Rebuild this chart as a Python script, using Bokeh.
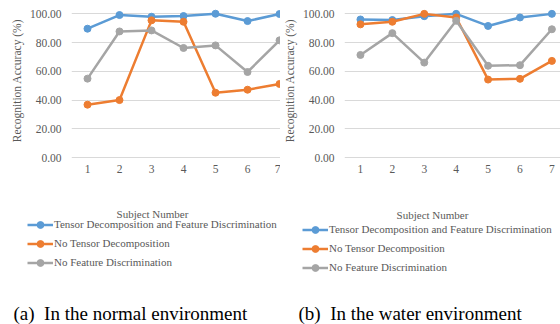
from bokeh.plotting import figure
from bokeh.models import Range1d, FixedTicker, NumeralTickFormatter, Label, Legend, LegendItem, Spacer
from bokeh.layouts import row, column
from bokeh.embed import file_html
from bokeh.resources import INLINE

# ---- data ----
subjects = [1, 2, 3, 4, 5, 6, 7]
y_ticks = [0, 20, 40, 60, 80, 100]
series_names = [
    "Tensor Decomposition and Feature Discrimination",
    "No Tensor Decomposition",
    "No Feature Discrimination",
]
colors = ["#5B9BD5", "#ED7D31", "#A5A5A5"]

normal_full = [89.6, 99.1, 97.9, 98.4, 100.0, 94.9, 99.8]
normal_no_td = [36.8, 40.0, 95.4, 94.4, 45.1, 47.2, 51.2]
normal_no_fd = [54.9, 87.7, 88.4, 76.2, 78.0, 59.5, 81.5]

water_full = [96.1, 95.7, 98.4, 100.0, 91.6, 97.5, 100.0]
water_no_td = [92.7, 94.5, 100.0, 97.5, 54.3, 54.8, 67.3]
water_no_fd = [71.4, 86.6, 66.1, 95.2, 63.9, 64.3, 89.3]

x_title = "Subject Number"
y_title = "Recognition Accuracy (%)"
captions = ["(a) \u00a0In the normal environment", "(b) \u00a0In the water environment"]

FONT = "Liberation Serif"
TXT = "#595959"
W = 280
H_TOP = 190
H_BOT = 134
NAN = float("nan")


def make_chart(series, cfg):
    p = figure(width=cfg["w"], height=H_TOP, output_backend="svg", toolbar_location=None,
               x_range=Range1d(0.5, cfg["xend"]), y_range=Range1d(-2, cfg["yend"]),
               min_border_left=cfg["bl"], min_border_right=0, min_border_top=0,
               min_border_bottom=cfg["bb"])
    p.outline_line_color = None
    p.background_fill_color = "white"
    p.border_fill_color = "white"
    p.xgrid.grid_line_color = None
    p.ygrid.grid_line_color = "#D9D9D9"
    p.ygrid.grid_line_width = 1
    p.ygrid.ticker = FixedTicker(ticks=y_ticks)

    p.yaxis.ticker = FixedTicker(ticks=y_ticks)
    p.yaxis.formatter = NumeralTickFormatter(format="0.00")
    p.xaxis.ticker = FixedTicker(ticks=subjects)
    for ax in (p.xaxis, p.yaxis):
        ax.axis_line_color = None
        ax.major_tick_line_color = None
        ax.minor_tick_line_color = None
        ax.major_tick_out = 0
        ax.major_tick_in = 0
        ax.major_label_text_font = FONT
        ax.major_label_text_font_size = "11.5px"
        ax.major_label_text_color = TXT
    p.yaxis.major_label_standoff = 10
    p.xaxis.major_label_standoff = 4
    p.yaxis.axis_label = y_title
    p.yaxis.axis_label_standoff = 4
    p.yaxis.axis_label_text_font = FONT
    p.yaxis.axis_label_text_font_size = "11.5px"
    p.yaxis.axis_label_text_font_style = "normal"
    p.yaxis.axis_label_text_color = TXT

    for vals, col in zip(series, colors):
        p.line(subjects, vals, line_color=col, line_width=2.5, line_join="round")
        p.scatter(subjects, vals, marker="circle", size=7, fill_color=col, line_color=col)
    return p


def make_footer(caption, cfg):
    q = figure(width=W, height=H_BOT, output_backend="svg", toolbar_location=None,
               x_range=Range1d(0, W), y_range=Range1d(0, H_BOT),
               x_axis_type=None, y_axis_type=None,
               min_border_left=0, min_border_right=0, min_border_top=0, min_border_bottom=0)
    q.outline_line_color = None
    q.xgrid.grid_line_color = None
    q.ygrid.grid_line_color = None
    q.background_fill_color = "white"
    q.border_fill_color = "white"

    items = []
    for name, col in zip(series_names, colors):
        # legend-only renderers (no visible data in this footer panel)
        r1 = q.line(x=[NAN], y=[NAN], line_color=col, line_width=2.5)
        r2 = q.scatter(x=[NAN], y=[NAN], marker="circle", size=7, fill_color=col, line_color=col)
        items.append(LegendItem(label=name, renderers=[r1, r2]))
    leg = Legend(items=items, location=(cfg["lx"], cfg["ly"]), orientation="vertical",
                 padding=0, margin=0, spacing=0, label_standoff=1,
                 glyph_width=26, glyph_height=17, label_height=19,
                 label_text_font=FONT, label_text_font_size="11px", label_text_color=TXT,
                 border_line_color=None, background_fill_alpha=0)
    q.add_layout(leg)

    q.add_layout(Label(x=cfg["sx"], y=cfg["sy"], x_units="screen", y_units="screen",
                       text=x_title, text_font=FONT, text_font_size="11px", text_color=TXT,
                       text_align="center", text_baseline="middle"))
    q.add_layout(Label(x=cfg["cx"], y=cfg["cy"], x_units="screen", y_units="screen",
                       text=caption, text_font=FONT, text_font_size="19px", text_color="black",
                       text_align="left", text_baseline="alphabetic"))
    return q


cfg_a = dict(w=273, xend=7.03, yend=109.2, bl=60, bb=30)
cfg_b = dict(w=280, xend=7.27, yend=109.3, bl=60, bb=27)
foot_a = dict(lx=27, ly=52.5, sx=152, sy=111, cx=13, cy=11)
foot_b = dict(lx=22, ly=47.5, sx=152, sy=110, cx=18, cy=11)

pa = make_chart([normal_full, normal_no_td, normal_no_fd], cfg_a)
pb = make_chart([water_full, water_no_td, water_no_fd], cfg_b)
fa = make_footer(captions[0], foot_a)
fb = make_footer(captions[1], foot_b)

top = row(Spacer(width=7, height=H_TOP), pa, pb, spacing=0)
layout = column(top, row(fa, fb, spacing=0), spacing=0)
open("out.html", "w").write(file_html(layout, INLINE))
